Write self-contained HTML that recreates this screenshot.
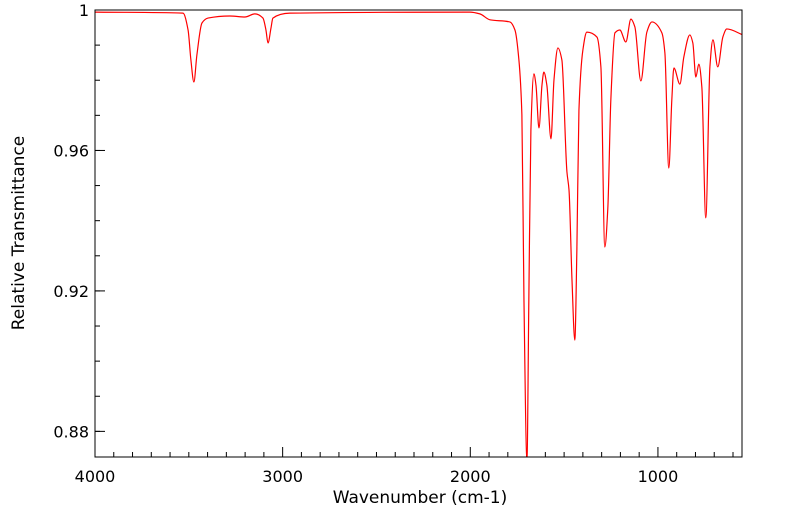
<!DOCTYPE html>
<html><head><meta charset="utf-8"><style>
html,body{margin:0;padding:0;background:#fff;}
svg{display:block;font-family:"DejaVu Sans","Liberation Sans",sans-serif;}
</style></head><body>
<svg id="chart" width="799" height="516">
<g id="ticks"></g>
<g id="labels"></g>
<clipPath id="clip"><rect x="95" y="10" width="647" height="447"/></clipPath>
<path id="line" fill="none" stroke="#ff0000" stroke-width="1.2" clip-path="url(#clip)"/>
<rect x="95" y="10" width="647" height="447" fill="none" stroke="#000" stroke-width="1"/>
<text x="420" y="503" font-size="17" text-anchor="middle">Wavenumber (cm-1)</text>
<text transform="translate(24,233) rotate(-90)" font-size="17" text-anchor="middle">Relative Transmittance</text>
</svg>
<script>
const wavenumbers=[4000,3531,3504,3489,3473,3457,3430,3398,3281,3201,3148,3105,3089,3078,3062,3052,2961,2002,1949,1895,1789,1762,1741,1725,1714,1698,1688,1677,1661,1650,1634,1618,1608,1592,1570,1554,1533,1512,1485,1474,1458,1443,1432,1421,1400,1379,1325,1304,1283,1267,1251,1229,1203,1171,1144,1123,1091,1059,1032,979,963,942,926,915,883,862,830,814,798,782,766,745,723,707,681,654,633,547];
const transmittance=[0.9994,0.9991,0.9943,0.9858,0.9795,0.9872,0.9963,0.9977,0.9983,0.998,0.9989,0.9977,0.9943,0.9906,0.9949,0.9977,0.9991,0.9994,0.9989,0.9972,0.9966,0.9943,0.9858,0.9701,0.9174,0.8719,0.9174,0.9658,0.9818,0.9786,0.9664,0.9786,0.9823,0.9786,0.9633,0.9801,0.9892,0.9858,0.9539,0.9488,0.9231,0.906,0.9317,0.9715,0.9886,0.9937,0.9923,0.9838,0.9325,0.9436,0.9744,0.9935,0.9943,0.9909,0.9974,0.9952,0.9798,0.9937,0.9966,0.9935,0.9878,0.955,0.9744,0.9835,0.9789,0.9866,0.9929,0.9906,0.9809,0.9846,0.9781,0.9408,0.9838,0.9915,0.9838,0.9923,0.9946,0.9929];
const xTickValues=[4000,3000,2000,1000];
const xTickLabels=["4000","3000","2000","1000"];
const yTickValues=[1,0.96,0.92,0.88];
const yTickLabels=["1","0.96","0.92","0.88"];
const X0=95,X1=742,Y0=10,Y1=457,XMAX=4000,XMIN=552,YMAX=1,YMIN=0.8727;
function xs(v){return X0+(XMAX-v)/(XMAX-XMIN)*(X1-X0);}
function ys(v){return Y0+(YMAX-v)/(YMAX-YMIN)*(Y1-Y0);}
const NS="http://www.w3.org/2000/svg";
const P=wavenumbers.map((w,i)=>[xs(w),ys(transmittance[i])]);
const n=P.length,sl=[],m=[];
for(let i=0;i<n-1;i++)sl.push((P[i+1][1]-P[i][1])/(P[i+1][0]-P[i][0]));
for(let i=0;i<n;i++){
  if(i===0)m.push(sl[0]);else if(i===n-1)m.push(sl[n-2]);
  else{const a=sl[i-1],b=sl[i];if(a*b<=0)m.push(0);else{const h0=P[i][0]-P[i-1][0],h1=P[i+1][0]-P[i][0];const w1=2*h1+h0,w2=h1+2*h0;m.push((w1+w2)/(w1/a+w2/b));}}
}
let d="M"+P[0][0].toFixed(2)+","+P[0][1].toFixed(2);
for(let i=0;i<n-1;i++){
  const h=(P[i+1][0]-P[i][0])/3;
  d+="C"+(P[i][0]+h).toFixed(2)+","+(P[i][1]+m[i]*h).toFixed(2)+" "+(P[i+1][0]-h).toFixed(2)+","+(P[i+1][1]-m[i+1]*h).toFixed(2)+" "+P[i+1][0].toFixed(2)+","+P[i+1][1].toFixed(2);
}
document.getElementById("line").setAttribute("d",d);
const tg=document.getElementById("ticks"),lg=document.getElementById("labels");
function ln(x1,y1,x2,y2,name){const l=document.createElementNS(NS,"line");l.setAttribute("x1",x1);l.setAttribute("y1",y1);l.setAttribute("x2",x2);l.setAttribute("y2",y2);l.setAttribute("stroke","#000");


tg.appendChild(l);}
for(let v=3900;v>=600;v-=100){if(v%1000===0)continue;const x=xs(v);ln(x,Y1,x,Y1-5,'x-minor-tick');}
xTickValues.forEach((v,i)=>{const x=xs(v);ln(x,Y1,x,Y1-10,'x-major-tick');
const t=document.createElementNS(NS,"text");t.setAttribute("x",x);t.setAttribute("y",482);t.setAttribute("font-size","16");t.setAttribute("text-anchor","middle");t.textContent=xTickLabels[i];


lg.appendChild(t);});
for(let k=0;k<=12;k++){const v=1-k*0.01;if(ys(v)>Y1)break;ln(X0,ys(v),X0+5,ys(v),'y-minor-tick');}
yTickValues.forEach((v,i)=>{const y=ys(v);ln(X0,y,X0+10,y,'y-major-tick');
const t=document.createElementNS(NS,"text");t.setAttribute("x",89);t.setAttribute("y",y+6);t.setAttribute("font-size","16");t.setAttribute("text-anchor","end");t.textContent=yTickLabels[i];


lg.appendChild(t);});
</script>
</body></html>
